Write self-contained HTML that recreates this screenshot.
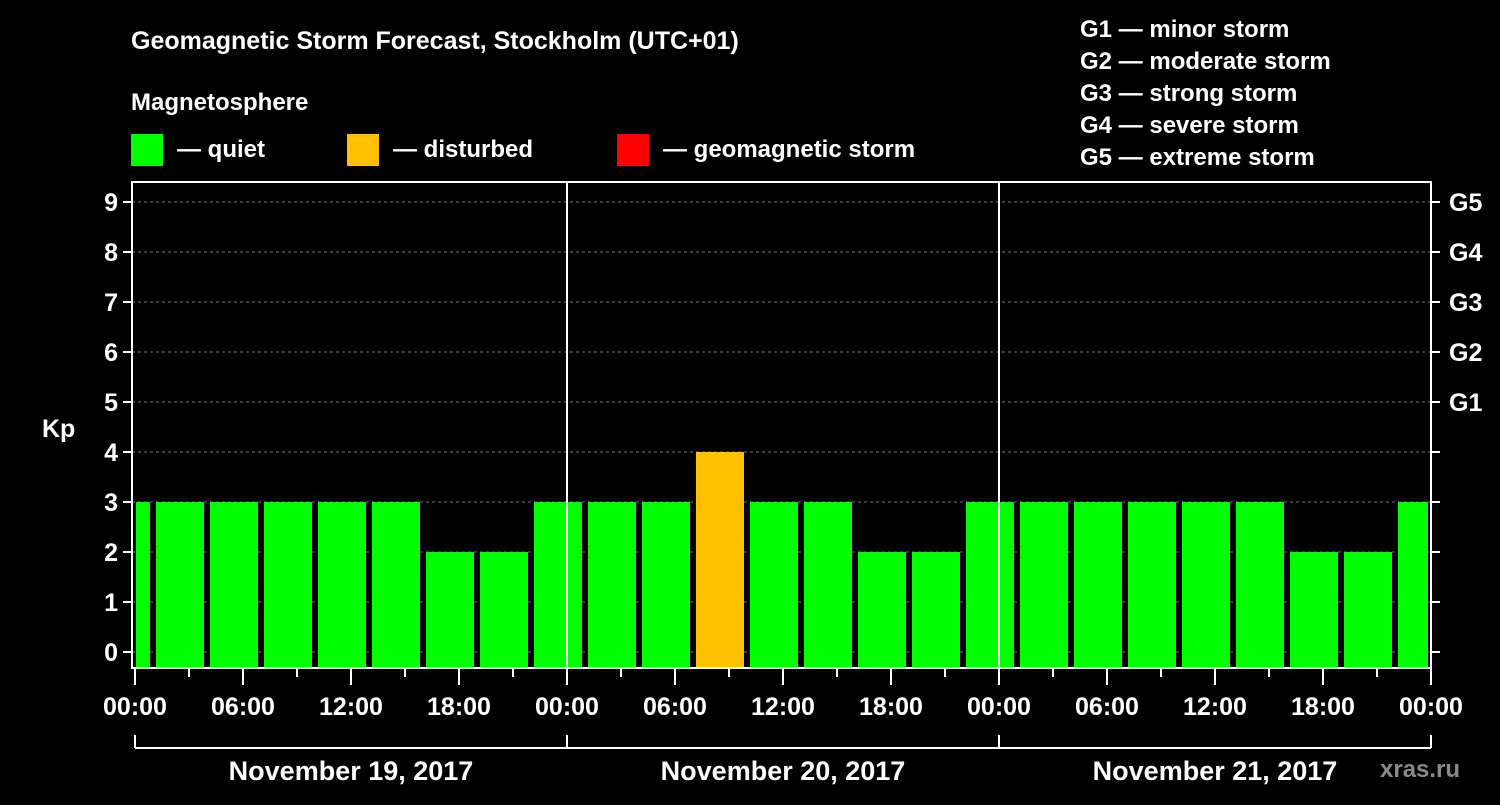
<!DOCTYPE html>
<html><head><meta charset="utf-8"><style>
body{margin:0;background:#000;width:1500px;height:800px;overflow:hidden}
svg text{font-family:"Liberation Sans",Arial,sans-serif;font-weight:bold;fill:#fff}
</style></head><body>
<svg id="c" width="1500" height="800">
<text x="131" y="49" font-size="25">Geomagnetic Storm Forecast, Stockholm (UTC+01)</text>
<text x="131" y="110" font-size="24">Magnetosphere</text>
<g><rect x="131" y="134" width="32" height="32" fill="#00ff00"/><text x="177" y="157" font-size="24">— quiet</text></g>
<g><rect x="347" y="134" width="32" height="32" fill="#ffc000"/><text x="393" y="157" font-size="24">— disturbed</text></g>
<g><rect x="617" y="134" width="32" height="32" fill="#ff0000"/><text x="663" y="157" font-size="24">— geomagnetic storm</text></g>
<g font-size="24">
<text x="1080" y="37">G1 — minor storm</text><text x="1080" y="69">G2 — moderate storm</text><text x="1080" y="101">G3 — strong storm</text><text x="1080" y="133">G4 — severe storm</text><text x="1080" y="165">G5 — extreme storm</text></g>
<text x="42" y="437" font-size="25">Kp</text>
<text x="1380" y="777" font-size="24" fill="#888" style="fill:#8a8a8a">xras.ru</text>
<g id="plot"></g>
</svg>
<script>
const kpValues=[3,3,3,3,3,3,2,2,3,3,3,4,3,3,2,2,3,3,3,3,3,3,2,2,3];
const yTicks=[0,1,2,3,4,5,6,7,8,9];
const gLabels=["G1","G2","G3","G4","G5"];
const timeLabels=["00:00","06:00","12:00","18:00"];
const dayLabels=["November 19, 2017","November 20, 2017","November 21, 2017"];
const NS="http://www.w3.org/2000/svg";
const g=document.getElementById('plot');
const X0=135,PXH=18,L=132,R=1431,T=182,B=668;
const x=h=>X0+h*PXH, y=v=>652-v*50;
function el(t,a,p){const e=document.createElementNS(NS,t);for(const k in a)e.setAttribute(k,a[k]);(p||g).appendChild(e);return e;}
// grid
yTicks.forEach(v=>{const l=el('line',{x1:L,x2:R,y1:y(v),y2:y(v),stroke:'#777','stroke-dasharray':'3,3','stroke-width':1});
});
// bars
kpValues.forEach((v,i)=>{const h0=i*3-2,h1=h0+3;let a=x(h0)+3,b=x(h1)-3;a=Math.max(a,L+4);b=Math.min(b,R-3);
const col=v>=5?'#ff0000':v>=4?'#ffc000':'#00ff00';
const r=el('rect',{x:a,y:y(v),width:b-a,height:B-y(v),fill:col});
});
// day separators
[1,2].forEach(d=>el('line',{x1:x(24*d),x2:x(24*d),y1:T,y2:B,stroke:'#fff','stroke-width':2}));
// frame
const f=el('rect',{x:L,y:T,width:R-L,height:B-T,fill:'none',stroke:'#fff','stroke-width':2});

// y ticks
yTicks.forEach(v=>{el('line',{x1:L-9,x2:L,y1:y(v),y2:y(v),stroke:'#fff','stroke-width':2});
el('line',{x1:R,x2:R+9,y1:y(v),y2:y(v),stroke:'#fff','stroke-width':2});
const t=el('text',{x:L-14,y:y(v)+9,'font-size':25,'text-anchor':'end'});t.textContent=v;
});
gLabels.forEach((s,i)=>{const t=el('text',{x:R+18,y:y(5+i)+9,'font-size':25});t.textContent=s;
});
// x ticks
for(let h=0;h<=72;h+=3){const major=h%6==0;el('line',{x1:x(h),x2:x(h),y1:B,y2:B+(major?17:9),stroke:'#fff','stroke-width':2});
if(major&&(h/6)%1==0){const idx=(h%24)/6;const t=el('text',{x:x(h),y:715,'font-size':25,'text-anchor':'middle'});
t.textContent=timeLabels[idx];}}
// day bracket
el('line',{x1:x(0),x2:x(72),y1:748,y2:748,stroke:'#fff','stroke-width':2});
[0,1,2,3].forEach(d=>el('line',{x1:x(24*d),x2:x(24*d),y1:735,y2:748,stroke:'#fff','stroke-width':2}));
dayLabels.forEach((s,i)=>{const t=el('text',{x:x(24*i+12),y:780,'font-size':27,'text-anchor':'middle'});t.textContent=s;
});
</script>
</body></html>
